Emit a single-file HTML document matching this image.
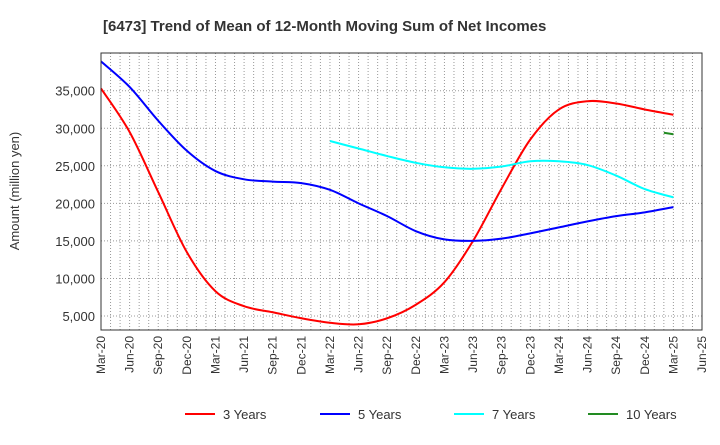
<!DOCTYPE html>
<html><head><meta charset="utf-8"><style>
body{margin:0;background:#fff;font-family:"Liberation Sans",sans-serif}
svg text{font-family:"Liberation Sans",sans-serif}
</style></head><body>
<svg id="c" width="720" height="440" xmlns="http://www.w3.org/2000/svg">
<text x="103" y="31" font-size="15" font-weight="bold" fill="#333">[6473]  Trend of Mean of 12-Month Moving Sum of Net Incomes</text>
<text transform="translate(19,191) rotate(-90)" text-anchor="middle" font-size="13" fill="#333">Amount (million yen)</text>
<g id="grid"></g><g id="series"></g><g id="axes"></g>
<g>
<g><line x1="185" y1="414" x2="215" y2="414" stroke="#f00" stroke-width="2"/><text x="223" y="419" font-size="13" fill="#333">3 Years</text></g>
<g><line x1="320" y1="414" x2="350" y2="414" stroke="#00f" stroke-width="2"/><text x="358" y="419" font-size="13" fill="#333">5 Years</text></g>
<g><line x1="454" y1="414" x2="484" y2="414" stroke="#0ff" stroke-width="2"/><text x="492" y="419" font-size="13" fill="#333">7 Years</text></g>
<g><line x1="588" y1="414" x2="618" y2="414" stroke="#228b22" stroke-width="2"/><text x="626" y="419" font-size="13" fill="#333">10 Years</text></g>
</g>
</svg>
<script>
const categories=["Mar-20","Jun-20","Sep-20","Dec-20","Mar-21","Jun-21","Sep-21","Dec-21","Mar-22","Jun-22","Sep-22","Dec-22","Mar-23","Jun-23","Sep-23","Dec-23","Mar-24","Jun-24","Sep-24","Dec-24","Mar-25","Jun-25"];
const yTicks=[5000,10000,15000,20000,25000,30000,35000];
const y3=[35300,29500,21500,13500,8300,6300,5500,4700,4100,3900,4700,6500,9500,15000,22000,28500,32500,33600,33300,32500,31800];
const y5=[38900,35500,31000,27000,24300,23200,22900,22700,21800,20000,18300,16300,15200,15000,15300,16000,16800,17600,18300,18800,19500];
const y7Start=8;
const y7=[28300,27300,26300,25400,24800,24600,24900,25600,25600,25100,23700,21900,20800];
const y10Months=[239,240];
const y10=[29400,29200];
const L=101,R=702,T=53,B=330,YMIN=3136,YMAX=40020;
const xq=i=>L+i*(R-L)/(categories.length-1);
const xm=m=>L+(m-0)*(R-L)/((categories.length-1)*3);
const y=v=>B-(v-YMIN)/(YMAX-YMIN)*(B-T);
const NS="http://www.w3.org/2000/svg";
function mk(tag,attrs,parent){const e=document.createElementNS(NS,tag);for(const k in attrs)e.setAttribute(k,attrs[k]);parent.appendChild(e);return e;}
const grid=document.getElementById('grid'),axes=document.getElementById('axes'),ser=document.getElementById('series');
for(let m=1;m<(categories.length-1)*3;m++){const l=mk('line',{x1:xm(m),x2:xm(m),y1:T,y2:B,stroke:'#999','stroke-dasharray':'1,2','stroke-width':1},grid);

}
yTicks.forEach(v=>{const l=mk('line',{x1:L,x2:R,y1:y(v),y2:y(v),stroke:'#999','stroke-dasharray':'1,2'},grid);


const t=mk('text',{x:L-6,y:y(v)+5,'text-anchor':'end','font-size':13,fill:'#333'},axes);t.textContent=v.toLocaleString('en-US');

});
const fr=mk('rect',{x:L,y:T,width:R-L,height:B-T,fill:'none',stroke:'#333','stroke-width':1},axes);


categories.forEach((c,i)=>{const t=mk('text',{transform:`translate(${xq(i)+4},${B+6}) rotate(-90)`,'text-anchor':'end','font-size':12,fill:'#333'},axes);t.textContent=c;

});
function path(pts){let d=`M${pts[0][0]},${pts[0][1]}`;for(let i=0;i<pts.length-1;i++){const p0=pts[i-1]||pts[i],p1=pts[i],p2=pts[i+1],p3=pts[i+2]||p2;
d+=` C${p1[0]+(p2[0]-p0[0])/6},${p1[1]+(p2[1]-p0[1])/6} ${p2[0]-(p3[0]-p1[0])/6},${p2[1]-(p3[1]-p1[1])/6} ${p2[0]},${p2[1]}`;}return d;}
function draw(pts,color,name){const p=mk('path',{d:path(pts),fill:'none',stroke:color,'stroke-width':2},ser);

}
draw(y3.map((v,i)=>[xq(i),y(v)]),'#f00','line-3-years');
draw(y5.map((v,i)=>[xq(i),y(v)]),'#00f','line-5-years');
draw(y7.map((v,i)=>[xq(i+y7Start),y(v)]),'#0ff','line-7-years');
draw(y10.map((v,i)=>[xm(y10Months[i]-180),y(v)]),'#228b22','line-10-years');
</script>
</body></html>
